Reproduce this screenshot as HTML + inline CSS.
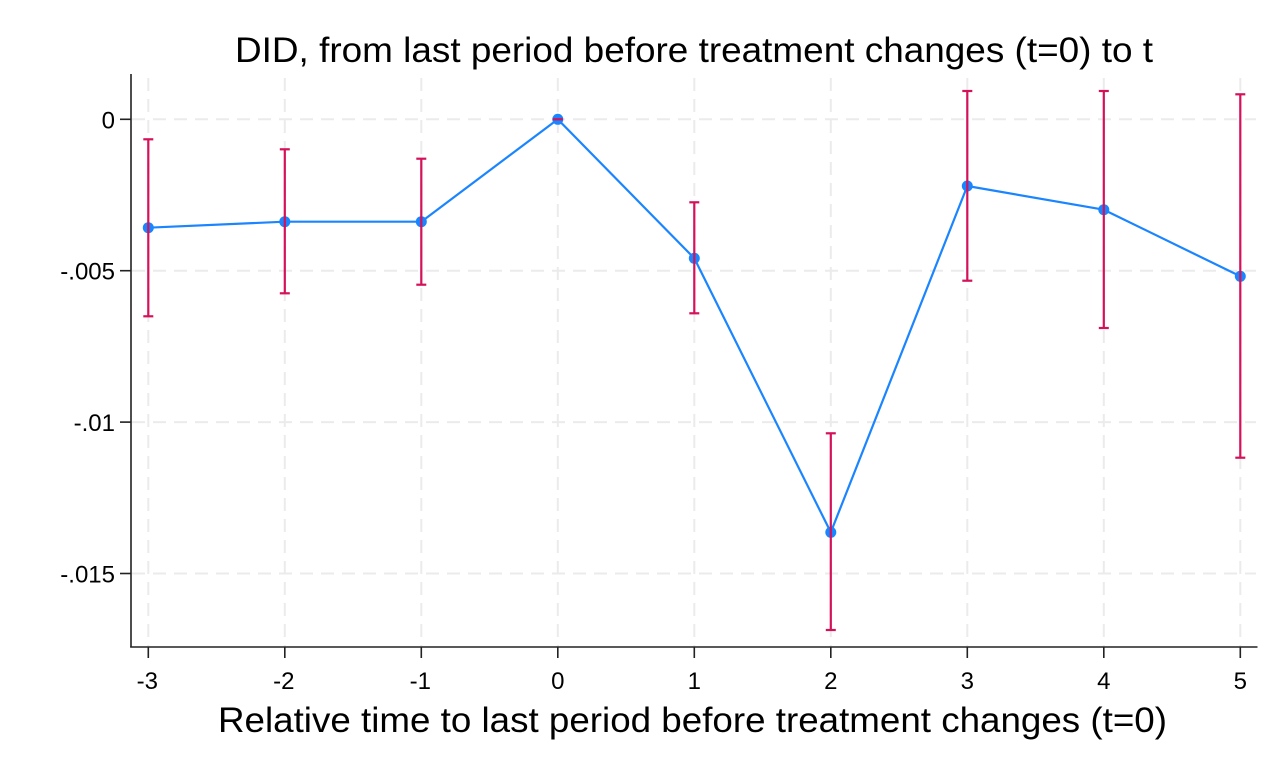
<!DOCTYPE html>
<html>
<head>
<meta charset="utf-8">
<style>
  html, body { margin: 0; padding: 0; background: #ffffff; }
  svg { display: block; }
  text { font-family: "Liberation Sans", Arial, sans-serif; fill: #000; }
</style>
</head>
<body>
<svg width="1285" height="771" viewBox="0 0 1285 771" xmlns="http://www.w3.org/2000/svg">
  <rect x="0" y="0" width="1285" height="771" fill="#ffffff"/>

  <!-- Title -->
  <text x="235" y="62" font-size="35" textLength="918" lengthAdjust="spacingAndGlyphs">DID, from last period before treatment changes (t=0) to t</text>

  <!-- Grid lines -->
  <g stroke="#ebebeb" stroke-width="2" stroke-dasharray="13 8" fill="none">
    <line x1="132" y1="119.3" x2="1256" y2="119.3"/>
    <line x1="132" y1="270.7" x2="1256" y2="270.7"/>
    <line x1="132" y1="422.1" x2="1256" y2="422.1"/>
    <line x1="132" y1="573.5" x2="1256" y2="573.5"/>

    <line x1="148.3" y1="78" x2="148.3" y2="646"/>
    <line x1="284.8" y1="78" x2="284.8" y2="646"/>
    <line x1="421.3" y1="78" x2="421.3" y2="646"/>
    <line x1="557.8" y1="78" x2="557.8" y2="646"/>
    <line x1="694.3" y1="78" x2="694.3" y2="646"/>
    <line x1="830.8" y1="78" x2="830.8" y2="646"/>
    <line x1="967.3" y1="78" x2="967.3" y2="646"/>
    <line x1="1103.8" y1="78" x2="1103.8" y2="646"/>
    <line x1="1240.3" y1="78" x2="1240.3" y2="646"/>
  </g>

  <!-- Axes -->
  <g stroke="#222222" stroke-width="1.6" fill="none">
    <line x1="131" y1="74" x2="131" y2="647.5"/>
    <line x1="130.2" y1="647" x2="1257.5" y2="647"/>
    <line x1="120" y1="119.3" x2="131" y2="119.3"/>
    <line x1="120" y1="270.7" x2="131" y2="270.7"/>
    <line x1="120" y1="422.1" x2="131" y2="422.1"/>
    <line x1="120" y1="573.5" x2="131" y2="573.5"/>
    <line x1="148.3" y1="647" x2="148.3" y2="658"/>
    <line x1="284.8" y1="647" x2="284.8" y2="658"/>
    <line x1="421.3" y1="647" x2="421.3" y2="658"/>
    <line x1="557.8" y1="647" x2="557.8" y2="658"/>
    <line x1="694.3" y1="647" x2="694.3" y2="658"/>
    <line x1="830.8" y1="647" x2="830.8" y2="658"/>
    <line x1="967.3" y1="647" x2="967.3" y2="658"/>
    <line x1="1103.8" y1="647" x2="1103.8" y2="658"/>
    <line x1="1240.3" y1="647" x2="1240.3" y2="658"/>
  </g>

  <!-- Y tick labels -->
  <g font-size="24" text-anchor="end">
    <text x="115" y="128.3">0</text>
    <text x="115" y="279.7">-.005</text>
    <text x="115" y="431.1">-.01</text>
    <text x="115" y="582.5">-.015</text>
  </g>

  <!-- X tick labels -->
  <g font-size="24" text-anchor="middle">
    <text x="147.3" y="689">-3</text>
    <text x="283.8" y="689">-2</text>
    <text x="420.3" y="689">-1</text>
    <text x="557.8" y="689">0</text>
    <text x="694.3" y="689">1</text>
    <text x="830.8" y="689">2</text>
    <text x="967.3" y="689">3</text>
    <text x="1103.8" y="689">4</text>
    <text x="1240.3" y="689">5</text>
  </g>

  <!-- X axis title -->
  <text x="218" y="732" font-size="35" textLength="949" lengthAdjust="spacingAndGlyphs">Relative time to last period before treatment changes (t=0)</text>

  <!-- Connected line -->
  <polyline fill="none" stroke="#1a85ff" stroke-width="2.2" stroke-linejoin="round"
    points="148.3,227.7 284.8,221.7 421.3,221.7 557.8,119.3 694.3,258.3 830.8,532.3 967.3,186 1103.8,209.7 1240.3,276.3"/>

  <!-- Markers -->
  <g fill="#1a85ff">
    <circle cx="148.3" cy="227.7" r="5.5"/>
    <circle cx="284.8" cy="221.7" r="5.5"/>
    <circle cx="421.3" cy="221.7" r="5.5"/>
    <circle cx="557.8" cy="119.3" r="5.5"/>
    <circle cx="694.3" cy="258.3" r="5.5"/>
    <circle cx="830.8" cy="532.3" r="5.5"/>
    <circle cx="967.3" cy="186" r="5.5"/>
    <circle cx="1103.8" cy="209.7" r="5.5"/>
    <circle cx="1240.3" cy="276.3" r="5.5"/>
  </g>

  <!-- Confidence intervals -->
  <g stroke="#d41159" stroke-width="2.2" fill="none">
    <line x1="148.3" y1="139.3" x2="148.3" y2="316.3"/>
    <line x1="143.3" y1="139.3" x2="153.3" y2="139.3"/>
    <line x1="143.3" y1="316.3" x2="153.3" y2="316.3"/>

    <line x1="284.8" y1="149.3" x2="284.8" y2="293.3"/>
    <line x1="279.8" y1="149.3" x2="289.8" y2="149.3"/>
    <line x1="279.8" y1="293.3" x2="289.8" y2="293.3"/>

    <line x1="421.3" y1="158.7" x2="421.3" y2="284.7"/>
    <line x1="416.3" y1="158.7" x2="426.3" y2="158.7"/>
    <line x1="416.3" y1="284.7" x2="426.3" y2="284.7"/>

    <line x1="552.8" y1="119.3" x2="562.8" y2="119.3"/>

    <line x1="694.3" y1="202.3" x2="694.3" y2="313.3"/>
    <line x1="689.3" y1="202.3" x2="699.3" y2="202.3"/>
    <line x1="689.3" y1="313.3" x2="699.3" y2="313.3"/>

    <line x1="830.8" y1="433.3" x2="830.8" y2="630"/>
    <line x1="825.8" y1="433.3" x2="835.8" y2="433.3"/>
    <line x1="825.8" y1="630" x2="835.8" y2="630"/>

    <line x1="967.3" y1="91" x2="967.3" y2="280.7"/>
    <line x1="962.3" y1="91" x2="972.3" y2="91"/>
    <line x1="962.3" y1="280.7" x2="972.3" y2="280.7"/>

    <line x1="1103.8" y1="91" x2="1103.8" y2="328"/>
    <line x1="1098.8" y1="91" x2="1108.8" y2="91"/>
    <line x1="1098.8" y1="328" x2="1108.8" y2="328"/>

    <line x1="1240.3" y1="94.3" x2="1240.3" y2="457.7"/>
    <line x1="1235.3" y1="94.3" x2="1245.3" y2="94.3"/>
    <line x1="1235.3" y1="457.7" x2="1245.3" y2="457.7"/>
  </g>
</svg>
</body>
</html>
